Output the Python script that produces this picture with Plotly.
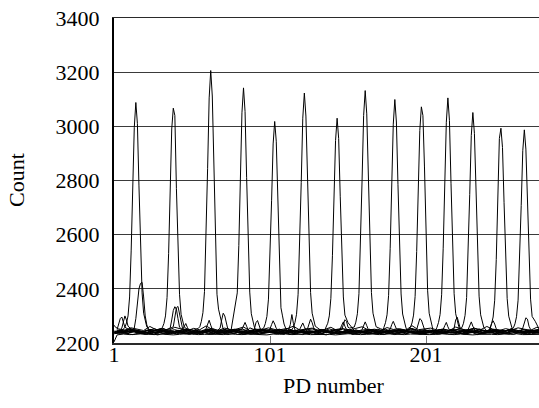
import plotly.graph_objects as go

# ---------------- data ----------------
PD_TICKS = [1, 101, 201]
COUNT_TICKS = [2200, 2400, 2600, 2800, 3000, 3200, 3400]

# main peak of each photodiode trace (PD number of the maximum)
PEAK_CENTERS = [15, 39, 63, 84, 104, 123, 144, 162, 181, 198, 215, 231, 249, 264]
# counts at PD numbers centre-7 ... centre+7
PEAK_VALUES = [
    [2258, 2274, 2300, 2370, 2540, 2770, 2995, 3088, 3010, 2780, 2555, 2385, 2310, 2278, 2260],
    [2257, 2272, 2300, 2368, 2530, 2755, 2990, 3067, 3040, 2770, 2545, 2380, 2306, 2276, 2259],
    [2260, 2280, 2312, 2390, 2585, 2845, 3105, 3206, 3112, 2852, 2592, 2380, 2325, 2298, 2272],
    [2280, 2320, 2340, 2385, 2560, 2805, 3050, 3142, 3055, 2812, 2570, 2388, 2308, 2276, 2258],
    [2256, 2272, 2298, 2362, 2515, 2725, 2935, 3018, 2945, 2735, 2520, 2330, 2300, 2270, 2255],
    [2258, 2276, 2306, 2380, 2555, 2792, 3030, 3123, 3038, 2800, 2562, 2386, 2310, 2280, 2262],
    [2257, 2273, 2300, 2365, 2522, 2735, 2948, 3030, 2955, 2742, 2530, 2370, 2303, 2290, 2275],
    [2259, 2277, 2308, 2382, 2558, 2800, 3040, 3132, 3046, 2806, 2566, 2386, 2310, 2279, 2260],
    [2258, 2275, 2304, 2376, 2548, 2778, 3008, 3099, 3016, 2786, 2555, 2381, 2307, 2277, 2259],
    [2258, 2274, 2303, 2372, 2538, 2760, 2985, 3072, 3040, 2850, 2580, 2395, 2310, 2278, 2260],
    [2258, 2276, 2305, 2378, 2550, 2782, 3015, 3105, 3022, 2790, 2556, 2382, 2308, 2278, 2260],
    [2257, 2273, 2302, 2368, 2530, 2748, 2966, 3051, 2974, 2756, 2536, 2373, 2304, 2275, 2258],
    [2256, 2271, 2296, 2358, 2508, 2712, 2955, 2993, 2922, 2718, 2515, 2364, 2299, 2272, 2257],
    [2256, 2271, 2297, 2358, 2506, 2708, 2910, 2987, 2916, 2714, 2512, 2362, 2298, 2290, 2280],
]

# small cross-talk bumps: trace index -> [(first PD number, counts...)]
BUMPS = {
    0: [(37, [2255, 2285, 2320, 2334, 2325, 2290, 2258]),
        (146, [2252, 2266, 2278, 2262, 2250])],
    1: [(14, [2255, 2290, 2345, 2400, 2420, 2424, 2370, 2300, 2268, 2250]),
        (178, [2250, 2268, 2280, 2266, 2252])],
    2: [(39, [2260, 2300, 2330, 2335, 2310, 2275, 2252]),
        (125, [2252, 2270, 2288, 2275, 2256])],
    3: [(3, [2250, 2270, 2290, 2296, 2278, 2258]),
        (101, [2252, 2268, 2282, 2270, 2254])],
    4: [(69, [2255, 2285, 2310, 2300, 2270, 2250]),
        (228, [2250, 2265, 2278, 2262, 2250])],
    5: [(91, [2252, 2275, 2283, 2262, 2248]),
        (45, [2250, 2262, 2272, 2258, 2246])],
    6: [(113, [2250, 2268, 2305, 2272, 2248]),
        (60, [2252, 2270, 2284, 2266, 2250])],
    7: [(147, [2250, 2270, 2286, 2280, 2258]),
        (83, [2250, 2264, 2276, 2262, 2248])],
    8: [(6, [2255, 2280, 2300, 2285, 2262]),
        (120, [2250, 2262, 2274, 2260, 2248])],
    9: [(219, [2255, 2285, 2295, 2275, 2252]),
        (160, [2250, 2266, 2278, 2264, 2250])],
    10: [(195, [2250, 2272, 2290, 2285, 2262, 2250])],
    11: [(242, [2250, 2272, 2282, 2270, 2252]),
         (212, [2250, 2264, 2276, 2260, 2248])],
    12: [(263, [2255, 2280, 2293, 2288, 2262, 2250])],
    14: [(1, [2204, 2218, 2230])],
    15: [(1, [2266, 2258])],
}

# background counts sampled every 4th PD number, starting at BASE_START
BASE_START = [1, 2, 3, 4, 1, 2, 3, 4, 1, 2, 3, 4, 1, 2, 3, 4]
BASE_0 = [2244, 2238, 2247, 2237, 2243, 2250, 2240, 2235, 2246, 2242,
          2237, 2249, 2243, 2236, 2245, 2252, 2240, 2234, 2243, 2248,
          2239, 2245, 2236, 2246, 2251, 2242, 2235, 2243, 2249, 2239,
          2246, 2237, 2242, 2250, 2243, 2236, 2245, 2240, 2248, 2237,
          2243, 2251, 2239, 2234, 2245, 2249, 2242, 2236, 2246, 2240,
          2237, 2248, 2243, 2239, 2250, 2242, 2235, 2245, 2248, 2239,
          2243, 2236, 2246, 2240, 2249, 2237, 2245, 2242, 2239, 2246]
BASE_1 = [2236, 2242, 2234, 2239, 2246, 2236, 2231, 2241, 2238, 2244,
          2234, 2239, 2243, 2235, 2241, 2232, 2238, 2247, 2236, 2242,
          2235, 2239, 2245, 2233, 2238, 2242, 2236, 2232, 2241, 2246,
          2238, 2234, 2242, 2236, 2245, 2239, 2235, 2241, 2232, 2238,
          2244, 2236, 2234, 2242, 2239, 2235, 2246, 2238, 2241, 2234,
          2236, 2245, 2239, 2235, 2242, 2238, 2232, 2241, 2244, 2236,
          2239, 2234, 2242, 2238, 2246, 2235, 2241, 2236, 2239, 2244]
BASE_2 = [2248, 2243, 2251, 2244, 2240, 2247, 2253, 2243, 2248, 2245,
          2241, 2250, 2244, 2254, 2247, 2241, 2245, 2251, 2243, 2248,
          2244, 2239, 2247, 2252, 2245, 2243, 2250, 2244, 2247, 2241,
          2251, 2245, 2240, 2248, 2243, 2247, 2255, 2244, 2239, 2247,
          2250, 2243, 2245, 2251, 2241, 2247, 2244, 2253, 2245, 2240,
          2248, 2244, 2250, 2243, 2247, 2254, 2245, 2241, 2248, 2244,
          2251, 2245, 2243, 2250, 2247, 2241, 2248, 2245, 2252, 2244]
BASE_3 = [2242, 2237, 2245, 2240, 2235, 2244, 2238, 2247, 2241, 2236,
          2240, 2248, 2237, 2242, 2238, 2233, 2244, 2240, 2246, 2237,
          2241, 2236, 2247, 2238, 2242, 2234, 2240, 2246, 2237, 2244,
          2238, 2241, 2236, 2247, 2240, 2235, 2242, 2238, 2249, 2240,
          2236, 2244, 2241, 2237, 2246, 2240, 2234, 2242, 2238, 2247,
          2241, 2237, 2244, 2240, 2236, 2246, 2238, 2242, 2235, 2241,
          2247, 2240, 2237, 2244, 2238, 2241, 2236, 2246, 2240, 2242]
BASE_4 = [2234, 2239, 2235, 2231, 2237, 2241, 2235, 2230, 2236, 2240,
          2234, 2238, 2232, 2239, 2236, 2243, 2234, 2231, 2237, 2235,
          2240, 2236, 2232, 2239, 2235, 2242, 2234, 2238, 2231, 2236,
          2240, 2235, 2239, 2234, 2230, 2237, 2236, 2241, 2235, 2232,
          2239, 2236, 2234, 2240, 2235, 2231, 2237, 2243, 2236, 2234,
          2239, 2235, 2232, 2237, 2240, 2234, 2236, 2231, 2239, 2235,
          2241, 2236, 2234, 2237, 2232, 2239, 2235, 2240, 2236, 2234]
BASE_5 = [2245, 2240, 2248, 2243, 2239, 2247, 2244, 2251, 2241, 2245,
          2240, 2244, 2250, 2243, 2237, 2247, 2241, 2245, 2253, 2243,
          2239, 2248, 2244, 2240, 2245, 2250, 2243, 2247, 2241, 2238,
          2244, 2248, 2243, 2245, 2240, 2250, 2244, 2239, 2247, 2243,
          2245, 2241, 2251, 2244, 2240, 2247, 2243, 2249, 2241, 2245,
          2239, 2244, 2248, 2243, 2247, 2240, 2245, 2251, 2243, 2239,
          2247, 2244, 2241, 2248, 2243, 2245, 2240, 2247, 2244, 2241]
BASE_6 = [2241, 2236, 2244, 2239, 2234, 2240, 2246, 2238, 2235, 2243,
          2239, 2233, 2241, 2247, 2238, 2240, 2235, 2243, 2239, 2236,
          2245, 2240, 2234, 2239, 2242, 2238, 2246, 2235, 2240, 2243,
          2236, 2239, 2245, 2234, 2241, 2238, 2240, 2235, 2246, 2239,
          2236, 2242, 2238, 2243, 2234, 2240, 2245, 2238, 2235, 2242,
          2239, 2246, 2236, 2240, 2238, 2243, 2235, 2239, 2242, 2236,
          2245, 2239, 2235, 2240, 2243, 2238, 2242, 2236, 2239, 2240]
BASE_7 = [2249, 2244, 2252, 2246, 2242, 2250, 2247, 2255, 2245, 2249,
          2243, 2252, 2246, 2241, 2249, 2254, 2245, 2248, 2242, 2251,
          2246, 2256, 2247, 2243, 2250, 2245, 2249, 2254, 2246, 2242,
          2248, 2252, 2245, 2249, 2243, 2251, 2246, 2255, 2247, 2242,
          2249, 2245, 2252, 2246, 2243, 2250, 2247, 2254, 2245, 2249,
          2242, 2248, 2252, 2246, 2250, 2243, 2249, 2255, 2246, 2242,
          2251, 2247, 2245, 2252, 2246, 2249, 2243, 2250, 2247, 2245]
BASE_8 = [2239, 2244, 2240, 2247, 2241, 2236, 2243, 2248, 2240, 2237,
          2245, 2241, 2235, 2244, 2239, 2247, 2242, 2237, 2241, 2250,
          2240, 2236, 2244, 2241, 2247, 2238, 2242, 2235, 2246, 2240,
          2237, 2244, 2241, 2248, 2238, 2242, 2236, 2246, 2240, 2244,
          2238, 2247, 2241, 2237, 2244, 2240, 2248, 2242, 2236, 2241,
          2246, 2238, 2242, 2240, 2247, 2237, 2244, 2241, 2238, 2246,
          2240, 2243, 2237, 2247, 2241, 2238, 2244, 2240, 2243, 2237]
BASE_9 = [2235, 2240, 2236, 2243, 2237, 2232, 2238, 2241, 2233, 2237,
          2244, 2236, 2233, 2240, 2237, 2243, 2234, 2238, 2231, 2237,
          2241, 2236, 2240, 2233, 2238, 2244, 2237, 2234, 2240, 2236,
          2231, 2238, 2243, 2236, 2240, 2234, 2237, 2242, 2233, 2238,
          2236, 2243, 2237, 2231, 2240, 2236, 2238, 2244, 2234, 2237,
          2241, 2233, 2238, 2236, 2243, 2237, 2234, 2240, 2231, 2238,
          2236, 2242, 2237, 2234, 2240, 2238, 2233, 2241, 2236, 2238]
BASE_10 = [2246, 2241, 2249, 2244, 2240, 2248, 2243, 2252, 2245, 2241,
           2246, 2251, 2243, 2239, 2245, 2250, 2244, 2248, 2241, 2246,
           2252, 2244, 2240, 2248, 2243, 2246, 2251, 2244, 2241, 2249,
           2245, 2240, 2246, 2243, 2252, 2245, 2241, 2248, 2244, 2238,
           2246, 2250, 2243, 2245, 2240, 2248, 2244, 2251, 2241, 2246,
           2243, 2245, 2250, 2240, 2246, 2244, 2248, 2241, 2252, 2245,
           2243, 2248, 2244, 2246, 2241, 2249, 2245, 2243, 2248, 2244]
BASE_11 = [2238, 2243, 2239, 2246, 2240, 2235, 2241, 2247, 2239, 2236,
           2244, 2240, 2233, 2243, 2238, 2246, 2241, 2236, 2240, 2248,
           2239, 2235, 2243, 2240, 2246, 2237, 2241, 2233, 2244, 2239,
           2236, 2243, 2240, 2247, 2237, 2241, 2235, 2244, 2239, 2243,
           2237, 2246, 2240, 2236, 2243, 2239, 2247, 2241, 2235, 2240,
           2244, 2237, 2241, 2239, 2246, 2236, 2243, 2240, 2237, 2244,
           2239, 2241, 2236, 2246, 2240, 2237, 2243, 2239, 2241, 2236]
BASE_12 = [2240, 2235, 2239, 2245, 2236, 2232, 2240, 2237, 2244, 2234,
           2239, 2236, 2246, 2237, 2234, 2242, 2236, 2239, 2235, 2244,
           2238, 2232, 2240, 2245, 2236, 2239, 2234, 2242, 2237, 2235,
           2244, 2239, 2236, 2232, 2240, 2237, 2245, 2235, 2239, 2242,
           2236, 2234, 2240, 2237, 2246, 2235, 2239, 2236, 2242, 2232,
           2237, 2244, 2235, 2240, 2236, 2239, 2234, 2245, 2237, 2235,
           2240, 2236, 2242, 2234, 2239, 2237, 2244, 2235, 2240, 2236]
BASE_13 = [2241, 2246, 2242, 2249, 2243, 2238, 2245, 2250, 2242, 2239,
           2247, 2243, 2236, 2246, 2241, 2249, 2244, 2239, 2243, 2251,
           2242, 2238, 2246, 2243, 2249, 2240, 2245, 2236, 2247, 2242,
           2239, 2246, 2243, 2250, 2240, 2245, 2238, 2247, 2242, 2246,
           2240, 2249, 2243, 2239, 2246, 2242, 2250, 2244, 2238, 2243,
           2247, 2240, 2245, 2242, 2249, 2239, 2246, 2243, 2240, 2247,
           2242, 2245, 2239, 2249, 2243, 2240, 2246, 2242, 2245, 2239]
BASE_14 = [2232, 2233, 2231, 2232, 2234, 2232, 2231, 2233, 2232, 2230,
           2232, 2234, 2233, 2231, 2232, 2233, 2232, 2231, 2234, 2232,
           2231, 2233, 2232, 2232, 2230, 2233, 2232, 2234, 2231, 2232,
           2233, 2231, 2232, 2233, 2232, 2230, 2232, 2234, 2233, 2231,
           2232, 2233, 2231, 2232, 2234, 2232, 2231, 2233, 2232, 2233,
           2231, 2232, 2234, 2232, 2231, 2233, 2232, 2230, 2232, 2233,
           2232, 2231, 2233, 2232, 2234, 2231, 2232, 2233, 2232, 2231]
BASE_15 = [2252, 2248, 2256, 2250, 2246, 2261, 2249, 2253, 2247, 2258,
           2251, 2245, 2254, 2249, 2263, 2250, 2247, 2255, 2248, 2252,
           2259, 2246, 2251, 2249, 2256, 2250, 2244, 2253, 2262, 2248,
           2251, 2255, 2247, 2250, 2258, 2246, 2252, 2249, 2254, 2260,
           2248, 2251, 2246, 2257, 2250, 2253, 2247, 2264, 2249, 2252,
           2255, 2248, 2250, 2246, 2259, 2251, 2247, 2254, 2249, 2261,
           2250, 2246, 2253, 2248, 2256, 2251, 2247, 2258, 2250, 2253]
BASELINES = [BASE_0, BASE_1, BASE_2, BASE_3, BASE_4, BASE_5, BASE_6, BASE_7,
             BASE_8, BASE_9, BASE_10, BASE_11, BASE_12, BASE_13, BASE_14, BASE_15]
BASE_STEP = 4


# ---------------- assemble traces ----------------
def trace_points(i):
    segments = []
    if i < len(PEAK_CENTERS):
        segments.append((PEAK_CENTERS[i] - 7, PEAK_VALUES[i]))
    segments += BUMPS.get(i, [])
    spans = [(s, s + len(v) - 1) for s, v in segments]
    pts = {}
    for j, v in enumerate(BASELINES[i]):
        x = BASE_START[i] + BASE_STEP * j
        if any(a <= x <= b for a, b in spans):
            continue
        pts[x] = v
    for s, vals in segments:
        for k, v in enumerate(vals):
            pts[s + k] = v
    xs = sorted(pts)
    return xs, [pts[x] for x in xs]


fig = go.Figure()
for i in range(len(BASELINES)):
    xs, ys = trace_points(i)
    fig.add_trace(go.Scatter(x=xs, y=ys, mode="lines",
                             line=dict(color="black", width=1),
                             showlegend=False, hoverinfo="skip"))

FONT = "Liberation Serif, Times New Roman, serif"
fig.update_layout(
    width=539, height=408,
    margin=dict(l=114, r=0, t=18, b=65, autoexpand=False),
    paper_bgcolor="white", plot_bgcolor="white",
    font=dict(family=FONT, size=22, color="black"),
    xaxis=dict(range=[1, 273.4], tickvals=PD_TICKS, ticktext=[str(v) for v in PD_TICKS],
               ticks="inside", ticklen=7, tickcolor="#777", tickwidth=1,
               showline=True, linecolor="#2a2a2a", linewidth=1.5, mirror=True,
               showgrid=False, zeroline=False, ticklabelstandoff=-9, automargin=False,
               tickfont=dict(family=FONT, size=22, color="black")),
    yaxis=dict(range=[2200, 3400], tickvals=COUNT_TICKS,
               ticks="", showline=True, linecolor="black", linewidth=2,
               showgrid=True, gridcolor="#3a3a3a", gridwidth=1, zeroline=False,
               ticklabelstandoff=8, automargin=False,
               tickfont=dict(family=FONT, size=22, color="black")),
    annotations=[
        dict(text="PD number", xref="paper", yref="paper", x=0.5176, y=-0.1323,
             xanchor="center", yanchor="middle", showarrow=False,
             font=dict(family=FONT, size=22, color="black")),
        dict(text="Count", xref="paper", yref="paper", x=-0.2294, y=0.5,
             xanchor="center", yanchor="middle", textangle=-90, showarrow=False,
             font=dict(family=FONT, size=22, color="black")),
    ],
)

fig.write_html("out.html",
               config={"displayModeBar": False, "staticPlot": True},
               post_script="document.body.style.margin='0px';"
                           "document.body.style.overflow='hidden';")
